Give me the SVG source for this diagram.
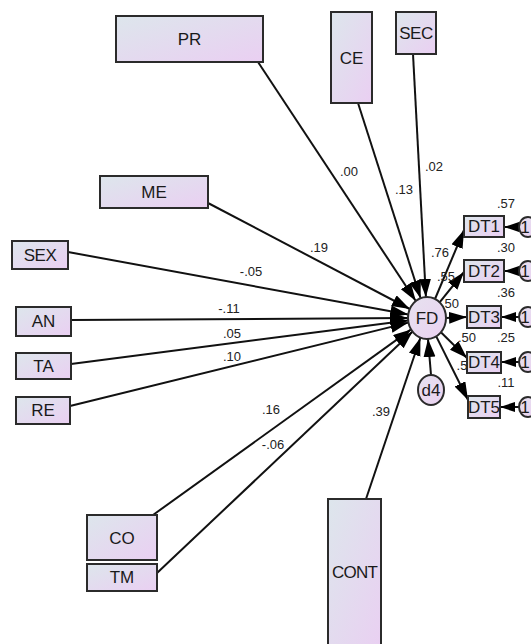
<svg xmlns="http://www.w3.org/2000/svg" width="531" height="644" viewBox="0 0 531 644">
<defs>
<linearGradient id="g" x1="0" y1="0" x2="1" y2="1">
<stop offset="0" stop-color="#dde6ec"/>
<stop offset="1" stop-color="#eacff2"/>
</linearGradient>
<linearGradient id="gc" x1="0" y1="0" x2="1" y2="1">
<stop offset="0" stop-color="#e6e2ef"/>
<stop offset="1" stop-color="#ebd1f1"/>
</linearGradient>
<marker id="ah" markerUnits="userSpaceOnUse" markerWidth="19" markerHeight="13" refX="18" refY="6" orient="auto">
<path d="M0,0 L18,6 L0,12 z" fill="#000"/>
</marker>
<marker id="as" markerUnits="userSpaceOnUse" markerWidth="16" markerHeight="12" refX="15" refY="5" orient="auto">
<path d="M0,0 L15,5 L0,10 z" fill="#000"/>
</marker>
</defs>
<style>
.box{fill:url(#g);stroke:#2b2b2b;stroke-width:2}
.cir{fill:url(#gc);stroke:#2b2b2b;stroke-width:2}
.nt{font-family:"Liberation Sans",Arial,sans-serif;font-size:17px;fill:#1a1a1a;text-anchor:middle;dominant-baseline:central}
.lb{font-family:"Liberation Sans",Arial,sans-serif;font-size:13px;fill:#222;text-anchor:middle}
.c line{stroke:#111;stroke-width:2;marker-end:url(#ah)}
.c line.s{marker-end:url(#as)}
</style>
<rect width="531" height="644" fill="#fff"/>
<g class="c" id="connectors">
<line x1="258" y1="62" x2="415.8" y2="301"/>
<line x1="358" y1="103" x2="420.6" y2="298.2"/>
<line x1="413" y1="54" x2="425.9" y2="297"/>
<line x1="208" y1="203" x2="409.8" y2="309"/>
<line x1="68" y1="252" x2="408.3" y2="314.6"/>
<line x1="71" y1="320" x2="408" y2="318.1"/>
<line x1="71" y1="364" x2="408.1" y2="320.4"/>
<line x1="70" y1="406" x2="408.5" y2="322.6"/>
<line x1="153" y1="515" x2="411.1" y2="329.4"/>
<line x1="157" y1="573" x2="412.6" y2="331.6"/>
<line x1="366" y1="499" x2="420.4" y2="337.7"/>
<line x1="431" y1="375" x2="428" y2="339"/>
<line x1="435" y1="299" x2="464" y2="230"/>
<line x1="439.6" y1="302.3" x2="464" y2="272"/>
<line x1="446" y1="318" x2="467" y2="317"/>
<line x1="440.9" y1="332.3" x2="467" y2="358"/>
<line x1="436.2" y1="336.4" x2="468" y2="400"/>
<line class="s" x1="519" y1="227" x2="504" y2="227"/>
<line class="s" x1="519" y1="271" x2="504" y2="271"/>
<line class="s" x1="519" y1="317" x2="501" y2="317"/>
<line class="s" x1="519" y1="362" x2="501" y2="362"/>
<line class="s" x1="519" y1="407" x2="500" y2="407"/>
</g>
<g id="labels">
<text class="lb" x="349" y="176">.00</text>
<text class="lb" x="404" y="194">.13</text>
<text class="lb" x="434" y="171">.02</text>
<text class="lb" x="319" y="252">.19</text>
<text class="lb" x="251" y="276">-.05</text>
<text class="lb" x="229" y="313">-.11</text>
<text class="lb" x="232" y="338">.05</text>
<text class="lb" x="232" y="361">.10</text>
<text class="lb" x="271" y="414">.16</text>
<text class="lb" x="273" y="449">-.06</text>
<text class="lb" x="381" y="416">.39</text>
<text class="lb" x="440" y="257">.76</text>
<text class="lb" x="446" y="281">.55</text>
<text class="lb" x="450" y="308">.50</text>
<text class="lb" x="467" y="342">.50</text>
<text class="lb" x="462" y="370">.5</text>
<text class="lb" x="506" y="208">.57</text>
<text class="lb" x="506" y="252">.30</text>
<text class="lb" x="506" y="297">.36</text>
<text class="lb" x="506" y="342">.25</text>
<text class="lb" x="506" y="387">.11</text>
</g>
<g id="PR"><rect class="box" x="116" y="16" width="147" height="46"/><text class="nt" x="189.5" y="39">PR</text></g>
<g id="CE"><rect class="box" x="331" y="12" width="41" height="91"/><text class="nt" x="351.5" y="58">CE</text></g>
<g id="SEC"><rect class="box" x="396" y="12" width="40" height="42"/><text class="nt" x="416" y="33" letter-spacing="-0.5">SEC</text></g>
<g id="ME"><rect class="box" x="100" y="176" width="108" height="32"/><text class="nt" x="154" y="192">ME</text></g>
<g id="SEX"><rect class="box" x="12" y="241" width="56" height="28"/><text class="nt" x="40" y="255" letter-spacing="-0.5">SEX</text></g>
<g id="AN"><rect class="box" x="16" y="307" width="55" height="29"/><text class="nt" x="43.5" y="321.5">AN</text></g>
<g id="TA"><rect class="box" x="16" y="353" width="55" height="26"/><text class="nt" x="43.5" y="366">TA</text></g>
<g id="RE"><rect class="box" x="16" y="397" width="54" height="27"/><text class="nt" x="43" y="410.5">RE</text></g>
<g id="CO"><rect class="box" x="87" y="515" width="70" height="45"/><text class="nt" x="122" y="538">CO</text></g>
<g id="TM"><rect class="box" x="87" y="564" width="70" height="27"/><text class="nt" x="122" y="577.5">TM</text></g>
<g id="CONT"><rect class="box" x="328" y="499" width="53" height="160"/><text class="nt" x="354.5" y="572" letter-spacing="-0.8">CONT</text></g>
<g id="FD"><ellipse class="cir" cx="427" cy="318" rx="19" ry="21"/><text class="nt" x="427" y="318">FD</text></g>
<g id="d4"><ellipse class="cir" cx="431" cy="390" rx="13" ry="15"/><text class="nt" x="431" y="390">d4</text></g>
<g id="DT1"><rect class="box" x="464" y="216" width="40" height="21"/><text class="nt" x="484" y="226.5">DT1</text></g>
<g id="DT2"><rect class="box" x="464" y="260" width="40" height="22"/><text class="nt" x="484" y="271">DT2</text></g>
<g id="DT3"><rect class="box" x="467" y="306" width="34" height="22"/><text class="nt" x="484" y="317">DT3</text></g>
<g id="DT4"><rect class="box" x="467" y="352" width="34" height="21"/><text class="nt" x="484" y="362.5">DT4</text></g>
<g id="DT5"><rect class="box" x="468" y="396" width="32" height="22"/><text class="nt" x="484" y="407">DT5</text></g>
<g id="e1"><ellipse class="cir" cx="528" cy="227" rx="9" ry="10"/><text class="nt" x="525" y="227">1</text></g>
<g id="e2"><ellipse class="cir" cx="528" cy="271" rx="9" ry="10"/><text class="nt" x="525" y="271">1</text></g>
<g id="e3"><ellipse class="cir" cx="528" cy="317" rx="9" ry="10"/><text class="nt" x="525" y="317">1</text></g>
<g id="e4"><ellipse class="cir" cx="528" cy="362" rx="9" ry="10"/><text class="nt" x="525" y="362">1</text></g>
<g id="e5"><ellipse class="cir" cx="528" cy="407" rx="9" ry="10"/><text class="nt" x="525" y="407">1</text></g>
</svg>
